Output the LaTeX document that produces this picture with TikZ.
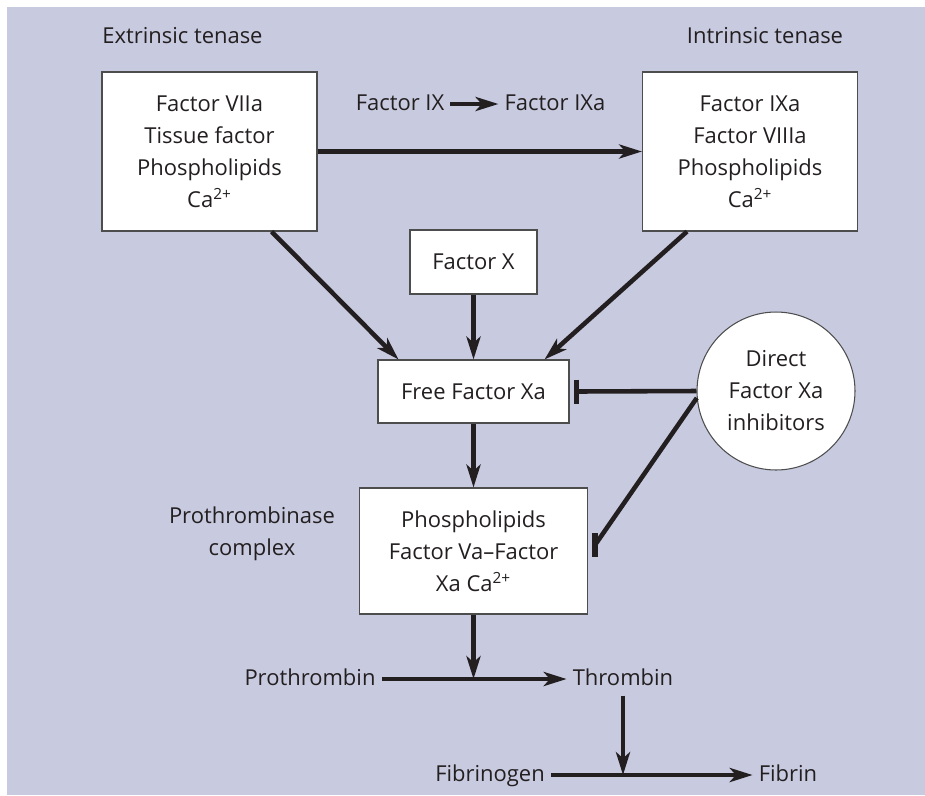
\documentclass[tikz,border=0pt]{standalone}
\usepackage{fontspec}
\setmainfont{Open Sans}
\usetikzlibrary{arrows.meta,positioning,calc}
\definecolor{BACK}{HTML}{C8CAE0}
\definecolor{INK}{HTML}{231F20}
\definecolor{EDGE}{HTML}{4D4D4D}
\tikzset{
    B/.style={draw=EDGE,fill=white,line width=0.6pt,align=center,inner sep=0pt,text=INK},
    L/.style={text=INK,text height=0.95em,text depth=0.24em},
    A/.style={draw=INK,line width=2.6pt,-{Stealth[length=13pt,width=8pt,inset=3.5pt]}},
    S/.style={draw=INK,line width=2.6pt},
    T/.style={draw=INK,line width=3.2pt},
}
\def\Stop#1{\draw[T] ($(#1)+(0,-12)$) -- ($(#1)+(0,12)$);}

\begin{document}
\begin{tikzpicture}[x=0.02cm,y=-0.02cm,font=\fontsize{12.5pt}{18.2pt}\selectfont]
        \useasboundingbox (0,0) rectangle (925,795);
        \fill[BACK] (7,7) rectangle (925,795);

        % Tenase complexes
        \node[B,minimum width=4.3cm,minimum height=3.18cm] (ext) at (209.5,151.5)
            {Factor VIIa\\Tissue factor\\Phospholipids\\Ca\textsuperscript{2+}};
        \node[B,minimum width=4.3cm,minimum height=3.18cm] (intr) at (750,151.5)
            {Factor IXa\\Factor VIIIa\\Phospholipids\\Ca\textsuperscript{2+}};
        \node[L,anchor=west,inner xsep=0pt] (extlbl) at (102,37) {Extrinsic tenase};
        \node[L] (intrlbl) at (765,37) {Intrinsic tenase};
        \node[L] (ix) at (400,104) {Factor IX};
        \node[L] (ixa) at (555,104) {Factor IXa};

        % Factor X and the prothrombinase
        \node[B,minimum width=2.54cm,minimum height=1.28cm] (fx) at (473.5,262) {Factor X};
        \node[B,minimum width=3.82cm,minimum height=1.26cm] (free) at (473.5,391.5) {Free Factor Xa};
        \node[B,minimum width=4.56cm,minimum height=2.52cm] (cplx) at (473.5,551)
            {Phospholipids\\Factor Va--Factor\\Xa Ca\textsuperscript{2+}};
        \node[L,align=center] (cplxlbl) at (252,549) {Prothrombinase\\complex};
        \node[B,circle,minimum size=3.16cm] (inh) at (776,391) {Direct\\Factor Xa\\inhibitors};

        % Thrombin and fibrin
        \node[L] (pro) at (310,679) {Prothrombin};
        \node[L] (thr) at (623,679) {Thrombin};
        \node[L] (fgn) at (490,775) {Fibrinogen};
        \node[L] (fib) at (788,775) {Fibrin};

        \draw[A] (ix) -- (ixa);
        \draw[A] (ext) -- (intr);
        \draw[A] ($(ext.south)+(62,0)$) -- ($(free.north)+(-75,0)$);
        \draw[A] ($(intr.south)+(-63,0)$) -- ($(free.north)+(71,0)$);
        \draw[A] (fx) -- (free);
        \draw[A] (free) -- (cplx);

        % inhibition
        \coordinate (stop1) at ($(free.east)+(7,0)$);
        \coordinate (stop2) at ($(cplx.east)+(7,-6)$);
        \draw[S] (inh.west) -- (stop1);
        \draw[S] (inh.185) -- (stop2);
        \Stop{stop1}
        \Stop{stop2}

        \draw[A] (pro) -- (thr);
        \draw[A] (cplx.south) -- (cplx.south |- pro.center);
        \draw[A] (fgn) -- (fib);
        \draw[A] (thr.south) -- (thr.south |- fgn.center);
    \end{tikzpicture}
\end{document}
